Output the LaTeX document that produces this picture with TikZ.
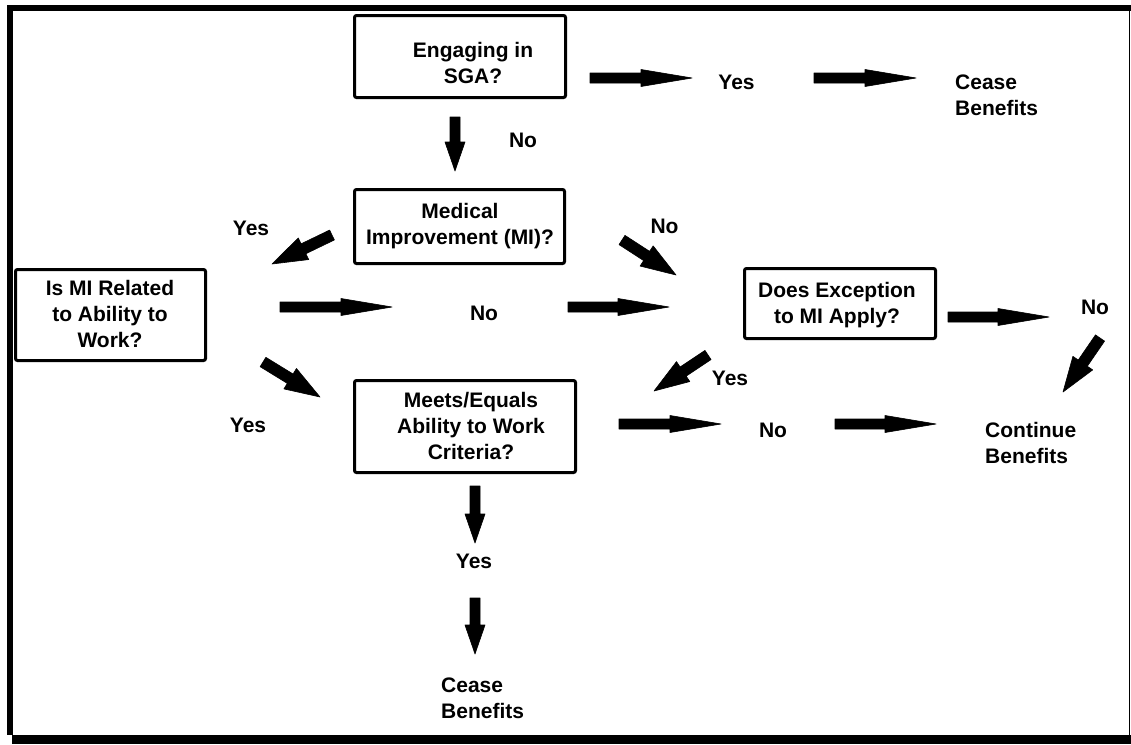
\documentclass[tikz,border=0pt]{standalone}
\usepackage{fontspec}
\setmainfont{Liberation Sans}
\usetikzlibrary{calc}
% block arrow: #1 tail, #2 tip, #3 half shaft, #4 half head, #5 head length
\newcommand{\blkarrow}[5]{%
  \coordinate (hb) at ($(#2)!#5!(#1)$);
  \filldraw[line width=0.6pt, line join=round] ($(#1)!#3!90:(#2)$) -- ($(hb)!#3!-90:(#1)$) -- ($(hb)!#4!-90:(#1)$) -- (#2)
        -- ($(hb)!#4!90:(#1)$) -- ($(hb)!#3!90:(#1)$) -- ($(#1)!#3!-90:(#2)$) -- cycle;
}
\newcommand{\harrow}[2]{\blkarrow{#1}{#2}{5pt}{8.5pt}{51pt}}
\newcommand{\varrow}[2]{\blkarrow{#1}{#2}{5pt}{10pt}{29pt}}
\newcommand{\darrow}[2]{\blkarrow{#1}{#2}{5.5pt}{12pt}{35pt}}
\begin{document}
\begin{tikzpicture}[x=1pt,y=-1pt,
  box/.style={draw, line width=3pt, rounded corners=2pt, inner sep=0pt},
  txt/.style={font=\fontsize{21}{26}\selectfont\bfseries, inner sep=0pt, align=center, anchor=north},
  lbl/.style={font=\fontsize{21}{26}\selectfont\bfseries, inner sep=0pt, anchor=base},
  mlbl/.style={font=\fontsize{21}{26}\selectfont\bfseries, inner sep=0pt, align=left, anchor=north west}]
\useasboundingbox (0,0) rectangle (1131,744);
% frame
\fill (7,5) rectangle (13,735);
\fill (7,5) rectangle (1131,11);
\fill (1128.5,5) rectangle (1130,735);
\fill (12,735) rectangle (1131,744);
% boxes
\node[box, minimum width=211pt, minimum height=82pt] (sga) at (460,56.5) {};
\node[txt] (sgat) at (473,41.7) {Engaging in\\SGA?};
\node[box, minimum width=210pt, minimum height=74pt] (mi) at (459.5,226.5) {};
\node[txt] (mit) at (460,202.7) {Medical\\Improvement (MI)?};
\node[box, minimum width=190pt, minimum height=91pt] (ismi) at (110.5,315) {};
\node[txt] (ismit) at (110,279.7) {Is MI Related\\to Ability to\\Work?};
\node[box, minimum width=191pt, minimum height=70pt] (does) at (840,303.5) {};
\node[txt] (doest) at (837,281.7) {Does Exception\\to MI Apply?};
\node[box, minimum width=221pt, minimum height=92pt] (meets) at (465,426.5) {};
\node[txt] (meetst) at (471,391.7) {Meets/Equals\\Ability to Work\\Criteria?};
% labels
\node[lbl] (yes1) at (736.5,89) {Yes};
\node[mlbl] (cease1) at (955,74.7) {Cease\\Benefits};
\node[lbl] (no1) at (523,147) {No};
\node[lbl] (yes2) at (251,235) {Yes};
\node[lbl] (no2) at (664.5,233) {No};
\node[lbl] (no3) at (484,320) {No};
\node[lbl] (yes3) at (730,385) {Yes};
\node[lbl] (no4) at (1095,314) {No};
\node[lbl] (yes4) at (248,432) {Yes};
\node[lbl] (no5) at (773,437) {No};
\node[mlbl] (cont) at (985,421.7) {Continue\\Benefits};
\node[lbl] (yes5) at (474,568) {Yes};
\node[mlbl] (cease2) at (441,677.7) {Cease\\Benefits};
% arrow end points
\coordinate (a1t) at (590,78);  \coordinate (a1h) at (692,78);
\coordinate (a2t) at (814,78);  \coordinate (a2h) at (916,78);
\coordinate (a3t) at (455,117); \coordinate (a3h) at (455,171);
\coordinate (a4t) at (332,235); \coordinate (a4h) at (272,264);
\coordinate (a5t) at (622,240); \coordinate (a5h) at (676,275);
\coordinate (a6t) at (280,307); \coordinate (a6h) at (392,307);
\coordinate (a7t) at (568,307); \coordinate (a7h) at (669,307);
\coordinate (a8t) at (948,317); \coordinate (a8h) at (1049,317);
\coordinate (a9t) at (1100,338); \coordinate (a9h) at (1063,392);
\coordinate (a10t) at (708,355); \coordinate (a10h) at (654,391);
\coordinate (a11t) at (263,362); \coordinate (a11h) at (320,397);
\coordinate (a12t) at (619,424); \coordinate (a12h) at (721,424);
\coordinate (a13t) at (835,424); \coordinate (a13h) at (936,424);
\coordinate (a14t) at (475,486); \coordinate (a14h) at (475,543);
\coordinate (a15t) at (475,598); \coordinate (a15h) at (475,654);
% arrows
\harrow{a1t}{a1h}
\harrow{a2t}{a2h}
\varrow{a3t}{a3h}
\darrow{a4t}{a4h}
\darrow{a5t}{a5h}
\harrow{a6t}{a6h}
\harrow{a7t}{a7h}
\harrow{a8t}{a8h}
\darrow{a9t}{a9h}
\darrow{a10t}{a10h}
\darrow{a11t}{a11h}
\harrow{a12t}{a12h}
\harrow{a13t}{a13h}
\varrow{a14t}{a14h}
\varrow{a15t}{a15h}
\end{tikzpicture}
\end{document}
